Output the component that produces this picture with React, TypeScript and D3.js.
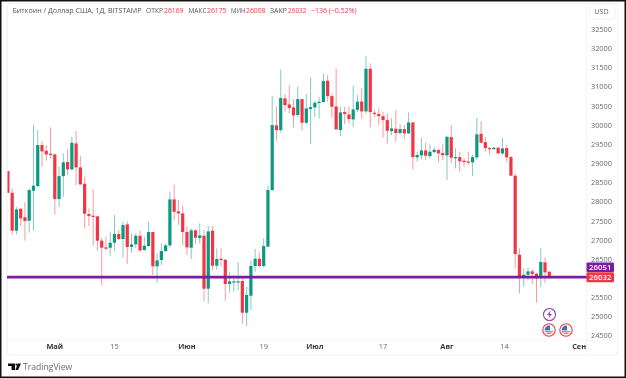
import React from "react";
import * as d3 from "d3";

const opens = [28796,28230,27239,27813,27587,27500,28283,28404,29475,29327,29248,29231,28065,28665,29031,28839,29518,28892,28465,27674,27630,27613,26978,26804,26795,26925,27152,27021,27404,26812,26882,27108,26734,26838,27204,26308,26473,26708,26856,28056,27743,27691,27204,26795,27247,27047,27108,25725,27239,26325,26508,26482,25847,25890,25890,25925,25098,25542,26316,26508,26316,26821,28300,29988,29866,30692,30536,30458,30258,30675,30057,30414,30458,30571,30597,31154,30753,30484,29866,30336,30275,30144,30397,30614,30353,31467,30318,30284,30231,30127,29840,29901,29788,29892,29779,30066,29153,29205,29335,29187,29292,29344,29266,29205,29683,29135,29161,29066,29048,29022,29153,29770,29553,29396,29370,29405,29257,29396,29161,28674,26612,26021,26090,26177,26116,26021,26412,26169];
const highs = [28805,28344,27865,27822,27987,28344,30005,29866,29579,29475,29936,29240,28909,29257,29361,29692,29840,29187,28648,27822,28317,27621,27039,27082,27213,27648,27256,27474,27474,27152,27169,27239,27082,27465,27204,26647,26908,26891,28257,28439,28039,27882,27360,27300,27273,27430,27256,27360,27360,26778,26778,26490,26168,26082,26412,25995,25777,26473,26760,26673,27039,28422,30753,30475,31449,30806,31032,30666,30997,30675,30806,31241,30632,30736,31345,31301,30823,31476,30475,30475,30475,31023,30780,30954,31797,31606,30388,30431,30344,30301,30170,30388,30023,29997,30327,30075,29300,29666,29544,29492,29431,29388,29501,29692,29996,29388,29300,29127,29300,29213,30188,30101,29692,29431,29431,29431,29666,29475,29187,28735,26778,26256,26273,26229,26142,26778,26543,26175];
const lows = [28213,27126,27143,27360,26978,27186,27239,28387,28909,29066,29127,27665,27865,28126,28692,28822,28431,28439,27300,27360,26847,26717,25821,26717,26586,26717,26995,26543,26369,26664,26778,26690,26717,26821,26082,25881,26342,26690,26804,27517,27387,26864,26604,26499,26891,26908,25386,25342,26212,26212,26299,25412,25620,25646,25690,24803,24750,25168,26168,26299,26282,26804,28280,29588,29796,30344,30301,29936,30214,29866,30023,29501,30214,30170,30588,30606,30197,29883,29718,30023,30040,29936,30344,30170,30301,29936,30214,29996,29675,29518,29736,29562,29753,29622,29770,28839,29040,29100,29083,29118,29257,29022,29083,28561,28996,28866,28779,28909,28953,28665,29083,29518,29300,29213,29344,29240,29213,29040,28665,26256,25603,25777,25951,25847,25359,25760,25864,26008];
const closes = [28230,27239,27795,27561,27491,28300,28413,29475,29309,29231,29222,28065,28665,29022,28839,29535,28892,28448,27682,27621,27604,26978,26795,26769,26925,27152,27021,27387,26812,26882,27108,26725,26847,27204,26308,26464,26708,26856,28056,27734,27691,27204,26804,27247,27056,27117,25725,27221,26325,26499,26473,25847,25916,25916,25916,25098,25560,26316,26508,26316,26838,28300,29997,29866,30701,30518,30440,30249,30675,30057,30432,30466,30579,30606,31145,30753,30475,29883,30327,30284,30153,30405,30606,30353,31467,30336,30292,30231,30127,29849,29910,29788,29892,29779,30066,29161,29214,29335,29196,29300,29353,29257,29214,29692,29144,29161,29048,29031,29022,29161,29753,29535,29396,29370,29405,29257,29388,29153,28674,26630,26021,26090,26177,26108,25995,26421,26151,26032];

const priceTicks = [32500,32000,31500,31000,30500,30000,29500,29000,28500,28000,27500,27000,26500,25500,25000,24500];
const timeTicks = [
  { label: "Май", index: 11, bold: true },
  { label: "15", index: 25, bold: false },
  { label: "Июн", index: 42, bold: true },
  { label: "19", index: 60, bold: false },
  { label: "Июл", index: 72, bold: true },
  { label: "17", index: 88, bold: false },
  { label: "Авг", index: 103, bold: true },
  { label: "14", index: 116.5, bold: false },
  { label: "Сен", index: 134, bold: true },
];
const levelPrice = 26028;
const levelLabel = "26051";
const lastLabel = "26032";
const RED = "#F23645";
const GREEN = "#089981";
const PURPLE = "#7B1FA2";
const FONT = "'Open Sans', 'DejaVu Sans', sans-serif";

const headerParts = [
  { t: "Биткоин / Доллар США, 1Д, BITSTAMP", x: 12.5, w: 129, c: "#50535e" },
  { t: "ОТКР", x: 146, w: 17, c: "#50535e" },
  { t: "26169", x: 164, w: 19.5, c: RED },
  { t: "МАКС", x: 188.5, w: 18, c: "#50535e" },
  { t: "26175", x: 207, w: 19.5, c: RED },
  { t: "МИН", x: 231, w: 14.5, c: "#50535e" },
  { t: "26008", x: 246, w: 19.5, c: RED },
  { t: "ЗАКР", x: 270, w: 17, c: "#50535e" },
  { t: "26032", x: 288, w: 18.5, c: RED },
  { t: "−136 (−0.52%)", x: 311, w: 45.5, c: RED },
];

const x = d3.scaleLinear().domain([0, 127]).range([7.9, 549.3]);
const y = d3.scaleLinear().domain([24500, 32500]).range([335.6, 29.2]);

function Flag({ cx, cy }: { cx: number; cy: number }) {
  return (
    <g>
      <circle cx={cx} cy={cy} r={6.2} fill="#fff" stroke={RED} strokeWidth={1.1} />
      <clipPath id={`fl${cx}`}><circle cx={cx} cy={cy} r={4.4} /></clipPath>
      <g clipPath={`url(#fl${cx})`}>
        <rect x={cx - 5} y={cy - 5} width={10} height={10} fill="#fff" />
        <rect x={cx - 5} y={cy + 1.2} width={10} height={1.2} fill="#e0566b" />
        <rect x={cx - 5} y={cy + 3.2} width={10} height={1.2} fill="#e0566b" />
        <rect x={cx - 5} y={cy - 5} width={6} height={5.4} fill="#3f6fb5" />
      </g>
    </g>
  );
}

export default function App() {
  const bw = 3.2;
  return (
    <svg width={626} height={378} style={{ position: "absolute", left: 0, top: 0, display: "block", background: "#fff" }} fontFamily={FONT}>
      <defs>
        <clipPath id="plot"><rect x={7.6} y={4} width={579} height={342} /></clipPath>
        <filter id="soft" x="0" y="0" width="100%" height="100%"><feGaussianBlur stdDeviation="0.4" /></filter>
      </defs>
      <g filter="url(#soft)">
        <rect x={7} y={3} width={611} height={352} rx={4} fill="#fff" stroke="#eef0f3" />
        <line x1={586.5} x2={586.5} y1={3} y2={355} stroke="#f3f4f6" />
        <line x1={7} x2={618} y1={340} y2={340} stroke="#f5f6f8" />
        <g clipPath="url(#plot)">
          {opens.map((o, i) => {
            const c = closes[i];
            const col = c >= o ? GREEN : RED;
            const top = y(Math.max(o, c));
            const bot = y(Math.min(o, c));
            const cx = x(i);
            return (
              <g key={i}>
                <line x1={cx} x2={cx} y1={y(highs[i])} y2={y(lows[i])} stroke={col} strokeOpacity={0.5} strokeWidth={1} />
                <rect x={cx - bw / 2} y={top} width={bw} height={Math.max(bot - top, 1.2)} fill={col} />
              </g>
            );
          })}
        </g>
        <line x1={7} x2={587} y1={y(levelPrice)} y2={y(levelPrice)} stroke={PURPLE} strokeWidth={2.6} />
        <circle cx={549.5} cy={314.5} r={6} fill="#fff" stroke="#8e3fb5" strokeWidth={1.1} />
        <path d="M550.8 310.5 L547 315 L549.4 315 L548.2 318.5 L552 314 L549.6 314 Z" fill="#8e3fb5" />
        <Flag cx={549} cy={330} />
        <Flag cx={566} cy={330} />
        {priceTicks.map((t) => (
          <text key={t} x={601.5} y={y(t) + 2.8} textAnchor="middle" fontSize={7.4} fill="#666b76">{t}</text>
        ))}
        <rect x={590} y={4} width={25} height={15} rx={2} fill="#fff" stroke="#f0f1f3" />
        <text x={601.5} y={13.5} textAnchor="middle" fontSize={7.2} fill="#666b76">USD</text>
        <rect x={586.5} y={262.5} width={27.5} height={9.6} rx={1} fill={PURPLE} />
        <text x={600.2} y={270} textAnchor="middle" fontSize={7.8} fontWeight={600} fill="#fff">{levelLabel}</text>
        <rect x={586.5} y={272.3} width={27.5} height={10} rx={1} fill={RED} />
        <text x={600.2} y={280.2} textAnchor="middle" fontSize={7.8} fontWeight={600} fill="#fff">{lastLabel}</text>
        {timeTicks.map((t) => (
          <text key={t.label} x={x(t.index)} y={349} textAnchor="middle" fontSize={7.4} fontWeight={t.bold ? 700 : 400} fill={t.bold ? "#33363f" : "#666b76"}>{t.label}</text>
        ))}
        {headerParts.map((p) => (
          <text key={p.x} x={p.x} y={13} fontSize={7.4} fill={p.c} textLength={p.w} lengthAdjust="spacingAndGlyphs">{p.t}</text>
        ))}
        <path d="M8 363.5 H15 V370 H11.5 V366 H8 Z" fill="#111" />
        <circle cx={16.6} cy={364.6} r={1.1} fill="#111" />
        <path d="M17.8 363.5 H21 L18 370 H15.4 Z" fill="#111" />
        <text x={23} y={370} fontSize={8.6} fill="#666b76">TradingView</text>
      </g>
      <rect x={0.75} y={0.75} width={624.5} height={376.5} fill="none" stroke="#111" strokeWidth={1.5} />
    </svg>
  );
}
